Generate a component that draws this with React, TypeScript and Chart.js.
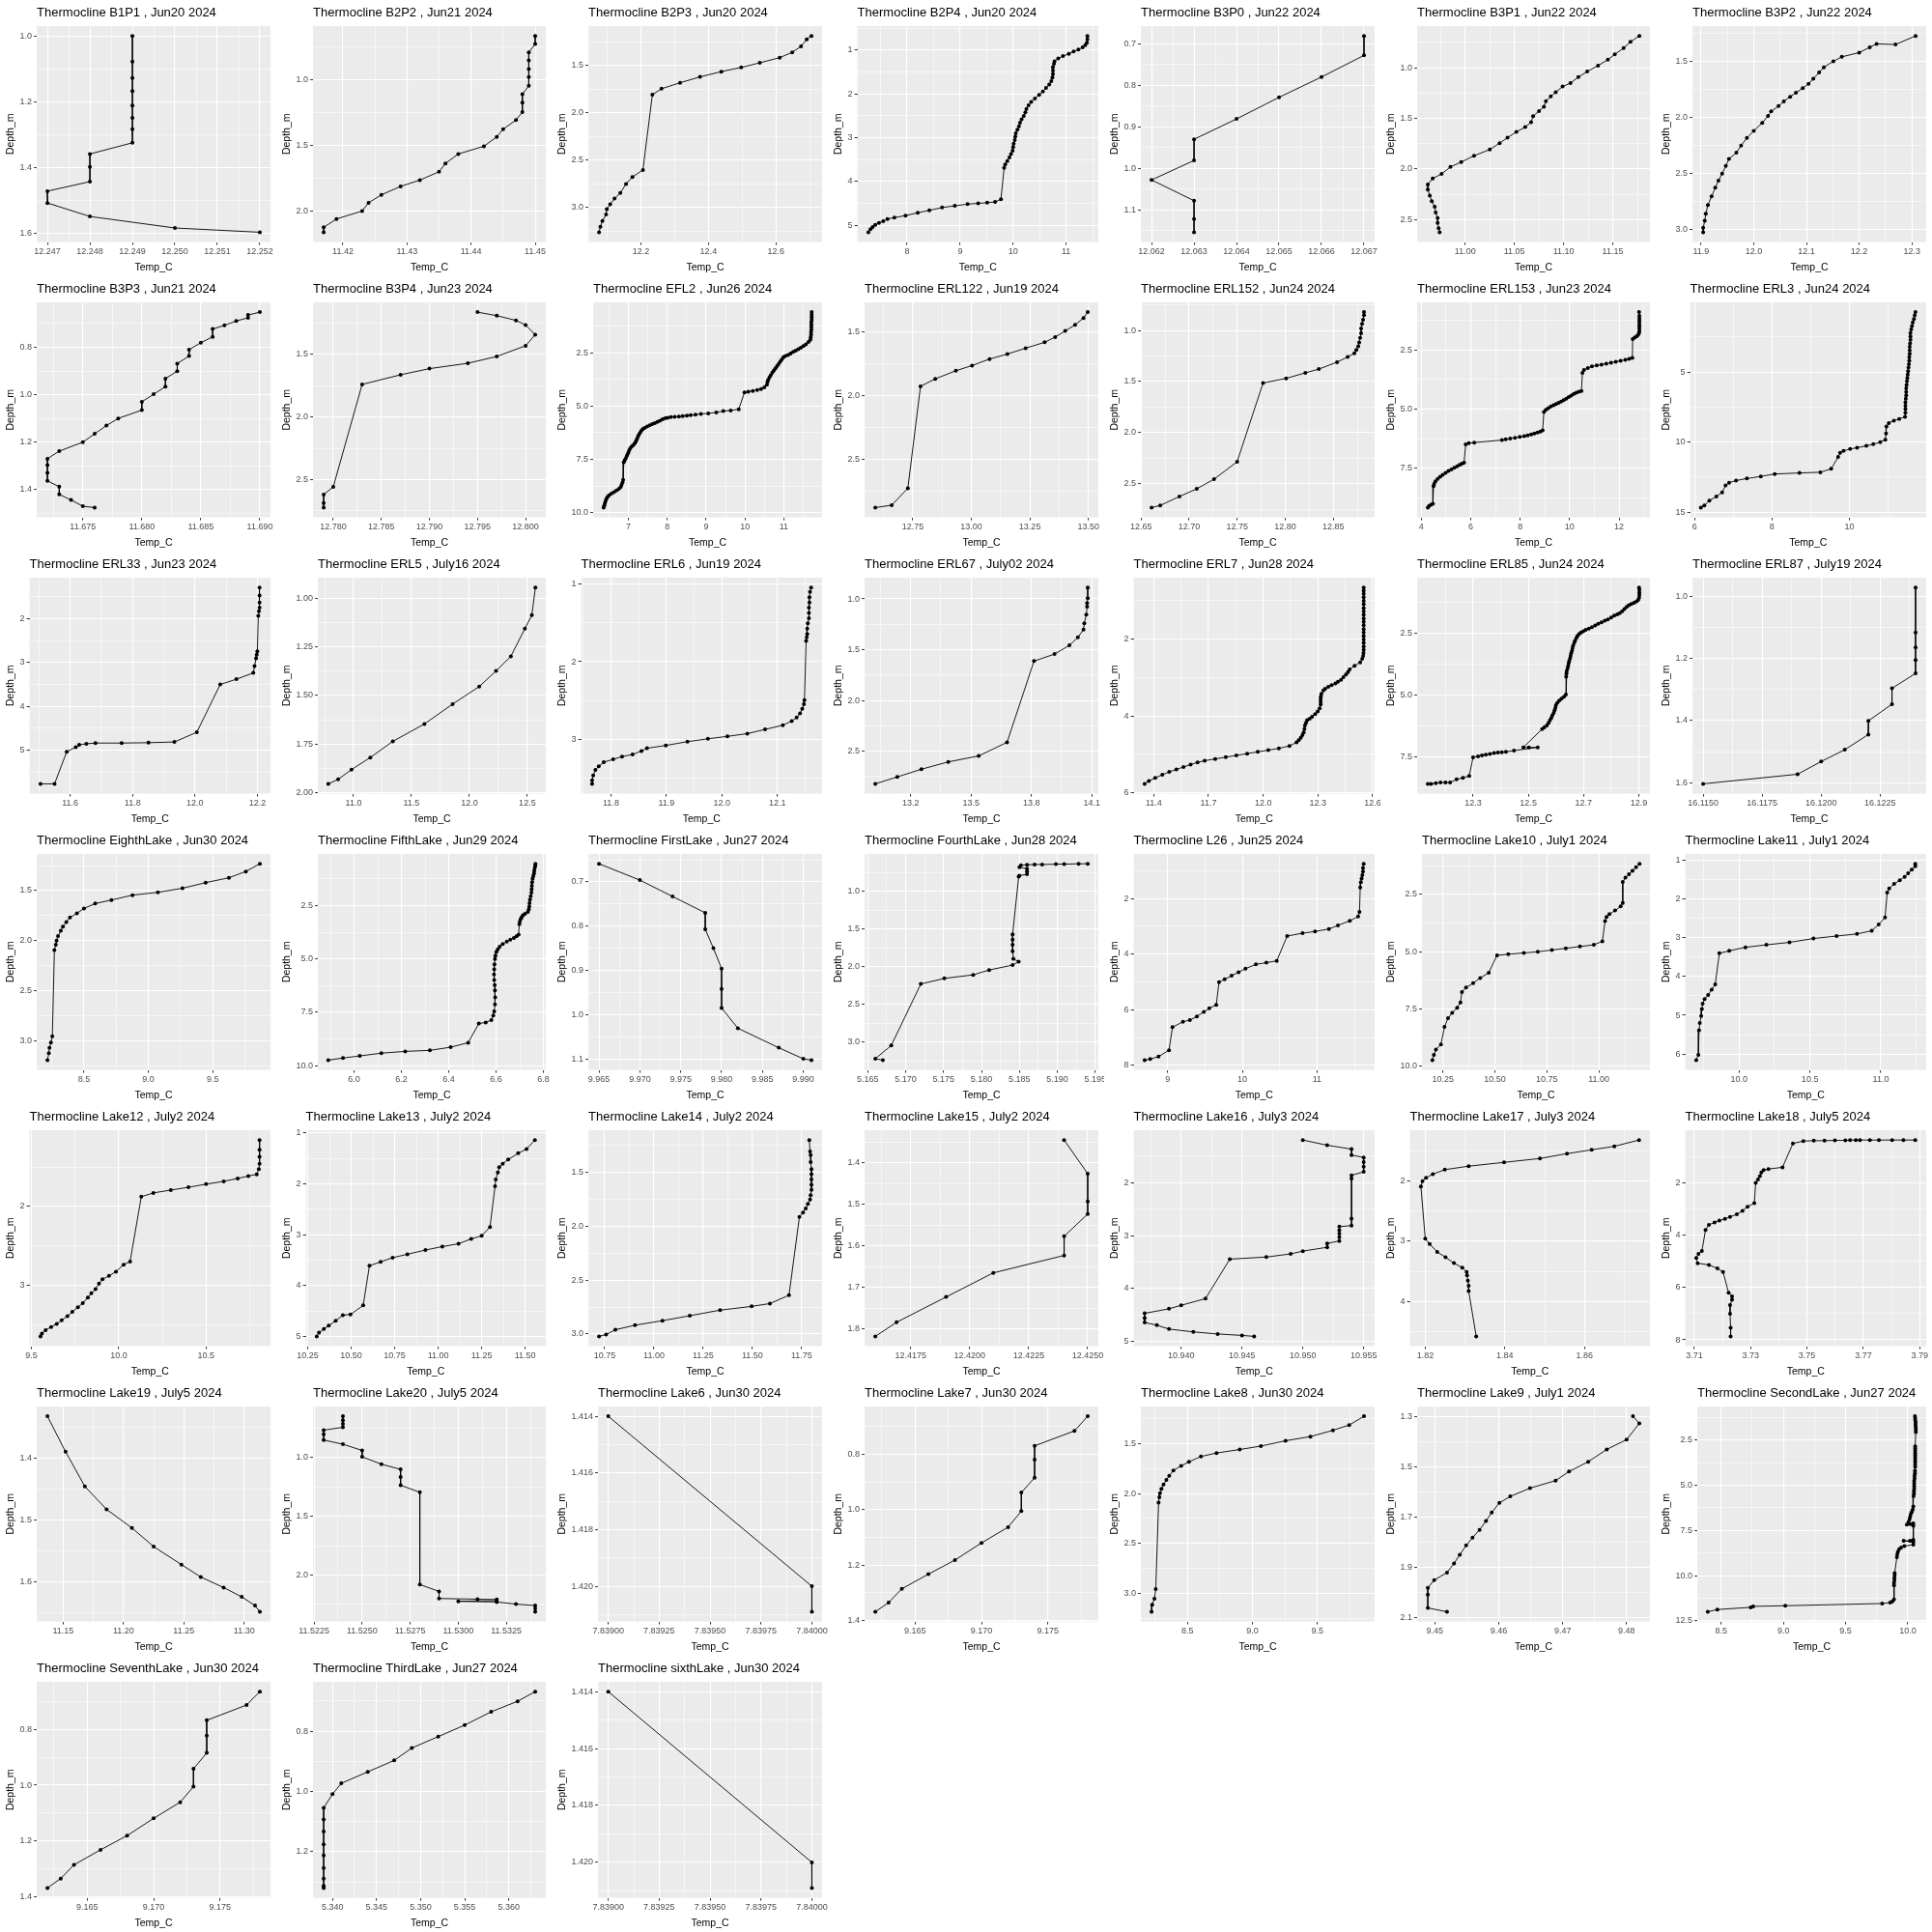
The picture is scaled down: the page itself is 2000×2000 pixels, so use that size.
import React, { useEffect, useRef } from "react";
import { Chart, registerables } from "chart.js";
Chart.register(...registerables);

const FONT = '"Liberation Sans", Arial, Helvetica, sans-serif';

// ---------------- data ----------------
const B1P1_TEMP = [12.249,12.249,12.249,12.249,12.249,12.249,12.249,12.249,12.248,12.248,12.248,12.247,12.247,12.248,12.250,12.252];
const B1P1_DEPTH = [1.000,1.078,1.128,1.168,1.212,1.249,1.284,1.325,1.359,1.398,1.443,1.472,1.508,1.549,1.584,1.597];
const B1P1_XT = ["12.247","12.248","12.249","12.250","12.251","12.252"];
const B1P1_YT = ["1.0","1.2","1.4","1.6"];

const B2P2_TEMP = [11.450,11.450,11.449,11.449,11.449,11.449,11.449,11.448,11.448,11.448,11.447,11.445,11.444,11.442,11.438,11.436,11.435,11.432,11.429,11.426,11.424,11.423,11.419,11.417,11.417];
const B2P2_DEPTH = [0.665,0.726,0.790,0.851,0.918,0.979,1.045,1.109,1.173,1.245,1.306,1.375,1.434,1.505,1.564,1.636,1.699,1.763,1.811,1.875,1.936,1.998,2.059,2.122,2.160];
const B2P2_XT = ["11.42","11.43","11.44","11.45"];
const B2P2_YT = ["1.0","1.5","2.0"];

const B2P3_TEMP = [12.705,12.691,12.674,12.648,12.611,12.552,12.497,12.438,12.375,12.316,12.261,12.234,12.206,12.175,12.156,12.139,12.122,12.109,12.099,12.097,12.086,12.080,12.076];
const B2P3_DEPTH = [1.185,1.222,1.296,1.359,1.415,1.470,1.519,1.563,1.619,1.681,1.744,1.807,2.604,2.678,2.752,2.848,2.907,2.967,3.019,3.074,3.144,3.204,3.263];
const B2P3_XT = ["12.2","12.4","12.6"];
const B2P3_YT = ["1.5","2.0","2.5","3.0"];

const B2P4_TEMP = [11.40,11.40,11.39,11.36,11.31,11.23,11.14,11.05,10.94,10.85,10.78,10.77,10.75,10.75,10.75,10.74,10.72,10.68,10.62,10.56,10.49,10.41,10.34,10.29,10.25,10.23,10.20,10.16,10.13,10.11,10.08,10.05,10.04,10.03,10.01,10.00,9.99,9.96,9.93,9.89,9.85,9.83,9.77,9.66,9.51,9.34,9.14,8.90,8.66,8.42,8.20,7.97,7.76,7.63,7.55,7.47,7.40,7.35,7.31,7.27];
const B2P4_DEPTH = [0.675,0.754,0.833,0.889,0.937,0.984,1.032,1.087,1.135,1.190,1.254,1.310,1.389,1.468,1.548,1.627,1.706,1.786,1.865,1.944,2.024,2.103,2.183,2.262,2.341,2.421,2.500,2.579,2.659,2.738,2.817,2.897,2.976,3.056,3.135,3.214,3.294,3.373,3.452,3.532,3.611,3.690,4.405,4.468,4.484,4.500,4.516,4.556,4.595,4.659,4.714,4.778,4.825,4.857,4.905,4.944,4.992,5.040,5.087,5.159];
const B2P4_XT = ["8","9","10","11"];
const B2P4_YT = ["1","2","3","4","5"];

const B3P0_TEMP = [12.067,12.067,12.066,12.065,12.064,12.063,12.063,12.062,12.063,12.063,12.063];
const B3P0_DEPTH = [0.681,0.728,0.780,0.829,0.881,0.930,0.981,1.028,1.078,1.122,1.154];
const B3P0_XT = ["12.062","12.063","12.064","12.065","12.066","12.067"];
const B3P0_YT = ["0.7","0.8","0.9","1.0","1.1"];

const B3P1_TEMP = [11.177,11.168,11.161,11.152,11.145,11.135,11.124,11.115,11.107,11.099,11.092,11.087,11.082,11.080,11.075,11.069,11.067,11.061,11.052,11.043,11.035,11.025,11.009,10.996,10.985,10.976,10.967,10.962,10.962,10.964,10.966,10.969,10.970,10.972,10.972,10.973,10.974];
const B3P1_DEPTH = [0.686,0.745,0.807,0.869,0.921,0.979,1.038,1.093,1.152,1.186,1.241,1.283,1.331,1.386,1.428,1.479,1.538,1.586,1.634,1.690,1.745,1.807,1.869,1.931,1.979,2.048,2.093,2.152,2.203,2.262,2.317,2.372,2.428,2.483,2.531,2.583,2.624];
const B3P1_XT = ["11.00","11.05","11.10","11.15"];
const B3P1_YT = ["1.0","1.5","2.0","2.5"];

const B3P2_TEMP = [12.307,12.269,12.233,12.220,12.200,12.167,12.151,12.133,12.124,12.113,12.104,12.093,12.080,12.069,12.057,12.047,12.033,12.027,12.016,12.000,11.987,11.976,11.967,11.953,11.947,11.940,11.933,11.927,11.920,11.913,11.909,11.907,11.904,11.904];
const B3P2_DEPTH = [1.273,1.350,1.344,1.375,1.422,1.460,1.500,1.553,1.600,1.656,1.700,1.740,1.781,1.816,1.857,1.900,1.947,1.988,2.050,2.121,2.184,2.252,2.316,2.372,2.434,2.503,2.565,2.628,2.706,2.783,2.861,2.924,2.986,3.026];
const B3P2_XT = ["11.9","12.0","12.1","12.2","12.3"];
const B3P2_YT = ["1.5","2.0","2.5","3.0"];

const B3P3_TEMP = [11.690,11.689,11.689,11.688,11.687,11.686,11.686,11.685,11.684,11.684,11.683,11.683,11.682,11.682,11.681,11.680,11.680,11.678,11.677,11.676,11.675,11.673,11.672,11.672,11.672,11.672,11.673,11.673,11.674,11.675,11.676];
const B3P3_DEPTH = [0.652,0.664,0.676,0.689,0.708,0.723,0.756,0.781,0.810,0.837,0.869,0.901,0.932,0.966,0.998,1.030,1.065,1.100,1.130,1.165,1.200,1.238,1.270,1.297,1.329,1.363,1.388,1.420,1.444,1.470,1.476];
const B3P3_XT = ["11.675","11.680","11.685","11.690"];
const B3P3_YT = ["0.8","1.0","1.2","1.4"];

const B3P4_TEMP = [12.795,12.797,12.799,12.800,12.801,12.800,12.797,12.794,12.790,12.787,12.783,12.780,12.779,12.779,12.779];
const B3P4_DEPTH = [1.163,1.191,1.229,1.266,1.343,1.431,1.517,1.571,1.614,1.663,1.740,2.557,2.620,2.686,2.723];
const B3P4_XT = ["12.780","12.785","12.790","12.795","12.800"];
const B3P4_YT = ["1.5","2.0","2.5"];

const EFL2_TEMP = [
  11.716,11.716,11.716,11.716,11.708,11.708,11.708,11.708,11.700,11.700,
  11.691,11.683,11.634,11.568,11.502,11.436,11.370,11.305,11.239,11.173,
  11.107,11.041,10.992,10.951,10.909,10.868,10.827,10.786,10.745,10.704,
  10.663,10.630,10.597,10.580,10.564,10.498,10.416,10.317,10.202,10.086,
  9.988,9.840,9.634,9.444,9.263,9.058,8.868,8.728,8.605,8.506,
  8.399,8.300,8.193,8.095,8.012,7.947,7.881,7.815,7.749,7.683,
  7.617,7.551,7.486,7.420,7.370,7.329,7.296,7.263,7.239,7.214,
  7.189,7.156,7.115,7.074,7.041,7.016,6.992,6.967,6.942,6.909,
  6.885,6.868,6.852,6.827,6.802,6.753,6.695,6.630,6.564,6.506,
  6.465,6.440,6.416,6.399,6.383,6.366];
const EFL2_DEPTH = [
  0.592,0.710,0.828,0.947,1.065,1.183,1.302,1.420,1.538,1.657,
  1.775,1.893,1.997,2.101,2.189,2.263,2.337,2.396,2.456,2.530,
  2.604,2.648,2.707,2.811,2.914,3.018,3.121,3.225,3.328,3.432,
  3.550,3.654,3.772,3.876,3.994,4.127,4.201,4.246,4.290,4.320,
  4.364,5.148,5.207,5.237,5.296,5.340,5.370,5.399,5.429,5.444,
  5.473,5.488,5.503,5.518,5.547,5.577,5.621,5.680,5.740,5.799,
  5.843,5.902,5.962,6.021,6.080,6.169,6.272,6.376,6.479,6.583,
  6.686,6.775,6.849,6.923,7.012,7.115,7.219,7.322,7.426,7.530,
  7.633,8.462,8.580,8.698,8.802,8.891,8.964,9.038,9.112,9.186,
  9.260,9.349,9.453,9.556,9.660,9.763];
const EFL2_XT = ["7","8","9","10","11"];
const EFL2_YT = ["2.5","5.0","7.5","10.0"];

const ERL122_TEMP = [13.497,13.479,13.443,13.401,13.358,13.313,13.232,13.154,13.078,13.003,12.934,12.846,12.783,12.729,12.660,12.590];
const ERL122_DEPTH = [1.348,1.394,1.448,1.495,1.543,1.584,1.630,1.676,1.715,1.766,1.807,1.870,1.929,2.726,2.859,2.878];
const ERL122_XT = ["12.75","13.00","13.25","13.50"];
const ERL122_YT = ["1.5","2.0","2.5"];

const ERL152_TEMP = [12.882,12.882,12.881,12.880,12.879,12.879,12.878,12.877,12.876,12.874,12.872,12.865,12.854,12.835,12.821,12.801,12.777,12.750,12.726,12.708,12.690,12.670,12.661];
const ERL152_DEPTH = [0.820,0.850,0.895,0.935,0.980,1.027,1.071,1.116,1.156,1.190,1.224,1.259,1.310,1.378,1.415,1.469,1.514,2.286,2.456,2.551,2.626,2.714,2.735];
const ERL152_XT = ["12.65","12.70","12.75","12.80","12.85"];
const ERL152_YT = ["1.0","1.5","2.0","2.5"];

const ERL153_TEMP = [
  12.805,12.817,12.817,12.817,12.817,12.817,12.817,12.817,12.805,12.766,
  12.702,12.625,12.548,12.535,12.406,12.252,12.059,11.866,11.674,11.481,
  11.288,11.095,10.902,10.735,10.581,10.517,10.478,10.375,10.272,10.170,
  10.067,9.964,9.861,9.758,9.656,9.553,9.450,9.347,9.244,9.141,
  9.039,8.961,8.910,8.820,8.704,8.576,8.447,8.306,8.165,7.985,
  7.792,7.599,7.419,7.265,6.147,5.928,5.800,5.735,5.645,5.555,
  5.452,5.337,5.221,5.105,4.990,4.874,4.771,4.668,4.578,4.527,
  4.501,4.476,4.398,4.321,4.270];
const ERL153_DEPTH = [
  0.896,1.056,1.163,1.270,1.377,1.484,1.591,1.698,1.778,1.858,
  1.925,1.979,2.032,2.834,2.874,2.914,2.955,2.995,3.035,3.075,
  3.115,3.155,3.195,3.262,3.342,3.463,4.238,4.265,4.305,4.358,
  4.425,4.492,4.559,4.626,4.679,4.733,4.786,4.840,4.893,4.960,
  5.027,5.120,5.896,5.949,5.989,6.029,6.070,6.110,6.150,6.176,
  6.216,6.243,6.283,6.310,6.417,6.444,6.497,7.273,7.313,7.366,
  7.420,7.487,7.553,7.620,7.701,7.781,7.861,7.955,8.061,8.168,
  8.262,9.011,9.051,9.104,9.171];
const ERL153_XT = ["4","6","8","10","12"];
const ERL153_YT = ["2.5","5.0","7.5"];

const ERL3_TEMP = [11.71,11.69,11.67,11.64,11.62,11.60,11.58,11.58,11.58,11.57,11.56,11.56,11.56,11.55,11.55,11.54,11.53,11.52,11.51,11.50,11.49,11.48,11.47,11.47,11.47,11.46,11.45,11.45,11.45,11.45,11.44,11.29,11.15,11.02,10.96,10.95,10.93,10.80,10.62,10.44,10.20,10.02,9.85,9.76,9.71,9.53,9.25,8.71,8.07,7.71,7.35,7.07,6.89,6.80,6.71,6.56,6.38,6.25,6.16];
const ERL3_DEPTH = [0.718,0.95,1.213,1.45,1.708,1.95,2.203,2.45,2.698,2.95,3.193,3.45,3.688,3.93,4.183,4.43,4.678,4.93,5.173,5.42,5.668,5.92,6.163,6.41,6.658,6.90,7.153,7.40,7.649,7.90,8.193,8.342,8.465,8.639,8.886,9.381,9.827,10.00,10.15,10.27,10.396,10.495,10.62,10.77,11.064,11.906,12.153,12.203,12.277,12.450,12.599,12.748,12.896,13.094,13.589,13.886,14.183,14.530,14.678];
const ERL3_XT = ["6","8","10"];
const ERL3_YT = ["5","10","15"];

const ERL33_TEMP = [12.207,12.207,12.207,12.207,12.205,12.203,12.200,12.198,12.196,12.191,12.187,12.133,12.081,12.006,11.934,11.851,11.765,11.681,11.652,11.629,11.618,11.589,11.550,11.505];
const ERL33_DEPTH = [1.283,1.466,1.625,1.745,1.825,1.928,2.741,2.821,2.900,3.076,3.235,3.378,3.498,4.590,4.813,4.829,4.837,4.837,4.853,4.877,4.932,5.036,5.769,5.769];
const ERL33_XT = ["11.6","11.8","12.0","12.2"];
const ERL33_YT = ["2","3","4","5","6"];

const ERL5_TEMP = [12.570,12.539,12.479,12.358,12.230,12.085,11.855,11.612,11.339,11.145,10.982,10.867,10.782];
const ERL5_DEPTH = [0.946,1.088,1.157,1.299,1.374,1.454,1.544,1.646,1.735,1.818,1.880,1.930,1.953];
const ERL5_XT = ["11.0","11.5","12.0","12.5"];
const ERL5_YT = ["1.00","1.25","1.50","1.75","2.00"];

const ERL6_TEMP = [12.161,12.159,12.158,12.158,12.157,12.157,12.157,12.155,12.154,12.154,12.153,12.152,12.149,12.148,12.145,12.141,12.135,12.126,12.110,12.078,12.046,12.010,11.975,11.938,11.899,11.865,11.855,11.839,11.820,11.804,11.787,11.778,11.772,11.768,11.766,11.766];
const ERL6_DEPTH = [1.041,1.099,1.167,1.234,1.302,1.369,1.437,1.505,1.572,1.640,1.685,1.730,2.495,2.550,2.608,2.667,2.721,2.766,2.820,2.874,2.928,2.964,2.995,3.032,3.081,3.117,3.153,3.198,3.225,3.261,3.297,3.351,3.396,3.468,3.532,3.577];
const ERL6_XT = ["11.8","11.9","12.0","12.1"];
const ERL6_YT = ["1","2","3"];

const ERL67_TEMP = [14.080,14.080,14.077,14.077,14.073,14.063,14.059,14.031,13.989,13.915,13.813,13.679,13.538,13.387,13.253,13.133,13.024];
const ERL67_DEPTH = [0.887,0.993,1.041,1.076,1.155,1.241,1.302,1.378,1.457,1.543,1.612,2.412,2.546,2.605,2.677,2.753,2.821];
const ERL67_XT = ["13.2","13.5","13.8","14.1"];
const ERL67_YT = ["1.0","1.5","2.0","2.5"];

const ERL7_TEMP = [12.551,12.551,12.551,12.551,12.551,12.551,12.551,12.551,12.551,12.551,12.551,12.551,12.551,12.551,12.551,12.551,12.551,12.551,12.551,12.550,12.548,12.543,12.532,12.501,12.474,12.465,12.454,12.440,12.427,12.410,12.396,12.375,12.357,12.340,12.330,12.319,12.316,12.315,12.315,12.315,12.310,12.299,12.285,12.268,12.255,12.241,12.235,12.229,12.226,12.222,12.215,12.206,12.195,12.183,12.144,12.086,12.028,11.970,11.912,11.853,11.795,11.737,11.679,11.640,11.602,11.563,11.524,11.485,11.447,11.408,11.373,11.350];
const ERL7_DEPTH = [0.655,0.74,0.82,0.91,1.00,1.09,1.19,1.28,1.37,1.46,1.55,1.64,1.74,1.83,1.92,2.01,2.10,2.19,2.28,2.36,2.44,2.512,2.604,2.695,2.787,2.86,2.924,2.99,3.061,3.11,3.153,3.20,3.244,3.29,3.336,3.427,3.50,3.564,3.63,3.702,3.80,3.885,3.95,4.022,4.07,4.113,4.18,4.251,4.34,4.434,4.50,4.571,4.63,4.690,4.781,4.845,4.891,4.937,4.982,5.028,5.074,5.120,5.166,5.211,5.266,5.330,5.394,5.458,5.532,5.614,5.696,5.769];
const ERL7_XT = ["11.4","11.7","12.0","12.3","12.6"];
const ERL7_YT = ["2","4","6"];

const ERL85_TEMP = [
  12.901,12.902,12.902,12.902,12.901,12.898,12.892,12.883,12.873,12.864,
  12.856,12.848,12.840,12.831,12.822,12.811,12.800,12.788,12.777,12.765,
  12.753,12.742,12.730,12.719,12.708,12.699,12.691,12.684,12.678,12.674,
  12.669,12.666,12.662,12.660,12.658,12.655,12.653,12.651,12.648,12.646,
  12.644,12.642,12.639,12.638,12.637,12.636,12.629,12.620,12.612,12.605,
  12.600,12.598,12.595,12.592,12.587,12.583,12.578,12.573,12.567,12.558,
  12.550,12.482,12.502,12.534,12.448,12.419,12.404,12.390,12.376,12.361,
  12.346,12.332,12.318,12.300,12.286,12.263,12.240,12.217,12.200,12.182,
  12.165,12.148,12.136];
const ERL85_DEPTH = [
  0.654,0.756,0.859,0.962,1.064,1.154,1.218,1.269,1.321,1.372,
  1.436,1.526,1.615,1.692,1.744,1.795,1.872,1.949,2.000,2.064,
  2.128,2.192,2.256,2.321,2.372,2.423,2.474,2.538,2.615,2.705,
  2.808,2.910,3.013,3.115,3.218,3.321,3.423,3.526,3.628,3.731,
  3.833,3.936,4.038,4.141,4.269,4.987,5.077,5.154,5.231,5.321,
  5.423,5.526,5.628,5.731,5.833,5.936,6.038,6.141,6.244,6.321,
  6.385,7.128,7.128,7.128,7.256,7.308,7.321,7.333,7.359,7.397,
  7.423,7.449,7.487,7.526,8.282,8.359,8.423,8.551,8.551,8.551,
  8.577,8.603,8.603];
const ERL85_XT = ["12.3","12.5","12.7","12.9"];
const ERL85_YT = ["2.5","5.0","7.5"];

const ERL87_TEMP = [16.124,16.124,16.124,16.124,16.124,16.123,16.123,16.122,16.122,16.121,16.120,16.119,16.115];
const ERL87_DEPTH = [0.971,1.116,1.164,1.205,1.248,1.296,1.347,1.401,1.445,1.494,1.532,1.573,1.604];
const ERL87_XT = ["16.1150","16.1175","16.1200","16.1225"];
const ERL87_YT = ["1.0","1.2","1.4","1.6"];

const EIGHTH_TEMP = [9.866,9.757,9.626,9.445,9.265,9.074,8.877,8.713,8.587,8.500,8.445,8.391,8.363,8.336,8.320,8.298,8.287,8.281,8.270,8.254,8.243,8.232,8.227,8.216];
const EIGHTH_DEPTH = [1.231,1.308,1.371,1.420,1.476,1.517,1.545,1.594,1.629,1.678,1.727,1.769,1.815,1.860,1.902,1.955,2.000,2.042,2.094,2.958,3.021,3.073,3.126,3.196];
const EIGHTH_XT = ["8.5","9.0","9.5"];
const EIGHTH_YT = ["1.5","2.0","2.5","3.0"];

const FIFTH_TEMP = [6.766,6.765,6.763,6.761,6.760,6.757,6.754,6.752,6.751,6.750,6.749,6.746,6.743,6.741,6.740,6.738,6.734,6.722,6.713,6.708,6.704,6.700,6.698,6.695,6.686,6.675,6.660,6.645,6.628,6.615,6.607,6.601,6.597,6.595,6.593,6.592,6.591,6.592,6.594,6.595,6.596,6.595,6.592,6.588,6.580,6.556,6.527,6.482,6.408,6.320,6.216,6.115,6.024,5.953,5.891];
const FIFTH_DEPTH = [0.539,0.65,0.752,0.87,0.997,1.12,1.242,1.40,1.569,1.73,1.895,2.06,2.222,2.39,2.549,2.68,2.794,2.88,2.958,3.04,3.121,3.25,3.366,3.856,3.94,4.020,4.10,4.183,4.30,4.428,4.55,4.673,4.84,5.000,5.25,5.490,5.73,5.980,6.22,6.471,6.80,7.124,7.451,7.65,7.859,7.974,8.023,8.922,9.134,9.281,9.330,9.412,9.542,9.641,9.739];
const FIFTH_XT = ["6.0","6.2","6.4","6.6","6.8"];
const FIFTH_YT = ["2.5","5.0","7.5","10.0"];

const FIRST_TEMP = [9.965,9.970,9.974,9.978,9.978,9.979,9.980,9.980,9.980,9.982,9.987,9.990,9.991];
const FIRST_DEPTH = [0.659,0.696,0.733,0.770,0.807,0.850,0.896,0.942,0.985,1.031,1.075,1.100,1.103];
const FIRST_XT = ["9.965","9.970","9.975","9.980","9.985","9.990"];
const FIRST_YT = ["0.7","0.8","0.9","1.0","1.1"];

const FOURTH_TEMP = [5.1940,5.1928,5.1909,5.1898,5.1880,5.1870,5.1860,5.1852,5.1850,5.1860,5.1860,5.1860,5.1850,5.1849,5.1841,5.1841,5.1841,5.1841,5.1842,5.1849,5.1841,5.1810,5.1789,5.1751,5.1720,5.1681,5.1660,5.1670];
const FOURTH_DEPTH = [0.634,0.634,0.639,0.639,0.644,0.644,0.648,0.653,0.681,0.699,0.736,0.773,0.792,0.806,1.569,1.639,1.708,1.792,1.894,1.931,1.977,2.042,2.106,2.153,2.227,3.042,3.218,3.236];
const FOURTH_XT = ["5.165","5.170","5.175","5.180","5.185","5.190","5.195"];
const FOURTH_YT = ["1.0","1.5","2.0","2.5","3.0"];

const L26_TEMP = [11.623,11.614,11.614,11.605,11.595,11.586,11.577,11.567,11.549,11.437,11.279,11.158,10.972,10.805,10.600,10.460,10.321,10.181,10.042,9.949,9.856,9.763,9.688,9.651,9.558,9.484,9.391,9.298,9.205,9.065,9.019,8.879,8.767,8.693];
const L26_DEPTH = [0.752,0.904,1.032,1.159,1.287,1.414,1.605,2.484,2.650,2.803,2.968,3.096,3.185,3.248,3.350,4.242,4.306,4.369,4.522,4.650,4.777,4.904,5.006,5.822,5.949,6.076,6.242,6.369,6.433,6.624,7.452,7.682,7.771,7.809];
const L26_XT = ["9","10","11"];
const L26_YT = ["2","4","6","8"];

const LAKE10_TEMP = [11.196,11.179,11.162,11.145,11.128,11.115,11.115,11.105,11.078,11.051,11.037,11.030,11.017,10.976,10.909,10.841,10.774,10.706,10.639,10.564,10.510,10.470,10.429,10.395,10.361,10.341,10.334,10.318,10.294,10.274,10.257,10.240,10.216,10.206,10.199];
const LAKE10_DEPTH = [1.159,1.311,1.463,1.616,1.768,1.951,2.866,3.018,3.201,3.354,3.476,3.659,4.543,4.695,4.771,4.848,4.924,5.000,5.046,5.107,5.152,5.915,6.143,6.372,6.555,6.753,7.210,7.439,7.668,7.896,8.277,9.040,9.268,9.497,9.726];
const LAKE10_XT = ["10.25","10.50","10.75","11.00"];
const LAKE10_YT = ["2.5","5.0","7.5","10.0"];

const LAKE11_TEMP = [11.243,11.243,11.218,11.193,11.168,11.134,11.094,11.059,11.045,11.030,10.985,10.936,10.832,10.688,10.525,10.356,10.193,10.045,9.931,9.861,9.832,9.807,9.782,9.757,9.743,9.738,9.733,9.723,9.718,9.713,9.698];
const LAKE11_DEPTH = [1.100,1.163,1.254,1.345,1.436,1.526,1.617,1.735,1.844,2.479,2.661,2.824,2.906,2.961,3.024,3.123,3.187,3.250,3.341,3.405,4.203,4.339,4.475,4.584,4.702,4.838,5.020,5.201,5.383,6.018,6.154];
const LAKE11_XT = ["10.0","10.5","11.0"];
const LAKE11_YT = ["1","2","3","4","5","6"];

const LAKE12_TEMP = [10.806,10.806,10.806,10.806,10.802,10.790,10.742,10.681,10.601,10.500,10.399,10.298,10.198,10.129,10.065,10.028,9.984,9.944,9.907,9.887,9.867,9.843,9.823,9.794,9.766,9.734,9.706,9.673,9.645,9.613,9.581,9.560,9.552];
const LAKE12_DEPTH = [1.156,1.280,1.369,1.458,1.524,1.591,1.613,1.644,1.680,1.716,1.756,1.791,1.827,1.876,2.698,2.738,2.827,2.880,2.924,2.978,3.049,3.102,3.156,3.227,3.280,3.338,3.391,3.444,3.489,3.529,3.569,3.613,3.649];
const LAKE12_XT = ["9.5","10.0","10.5"];
const LAKE12_YT = ["2","3"];

const LAKE13_TEMP = [11.556,11.508,11.460,11.403,11.371,11.351,11.343,11.331,11.327,11.298,11.250,11.190,11.117,11.024,10.927,10.823,10.738,10.669,10.605,10.569,10.496,10.452,10.411,10.371,10.343,10.315,10.302];
const LAKE13_DEPTH = [1.137,1.315,1.397,1.521,1.603,1.671,1.774,1.911,2.048,2.849,3.021,3.082,3.178,3.233,3.301,3.384,3.452,3.534,3.610,4.390,4.568,4.582,4.692,4.788,4.856,4.925,5.000];
const LAKE13_XT = ["10.25","10.50","10.75","11.00","11.25","11.50"];
const LAKE13_YT = ["1","2","3","4","5"];

const LAKE14_TEMP = [11.789,11.793,11.796,11.796,11.800,11.800,11.800,11.800,11.800,11.796,11.793,11.782,11.771,11.757,11.739,11.686,11.589,11.496,11.336,11.182,11.043,10.904,10.804,10.757,10.721];
const LAKE14_DEPTH = [1.198,1.305,1.338,1.403,1.468,1.516,1.565,1.614,1.662,1.711,1.750,1.792,1.834,1.873,1.912,2.640,2.718,2.744,2.779,2.831,2.877,2.919,2.961,3.006,3.023];
const LAKE14_XT = ["10.75","11.00","11.25","11.50","11.75"];
const LAKE14_YT = ["1.5","2.0","2.5","3.0"];

const LAKE15_TEMP = [12.4240,12.4250,12.4250,12.4250,12.4240,12.4240,12.4210,12.4190,12.4169,12.4160];
const LAKE15_DEPTH = [1.345,1.426,1.493,1.523,1.577,1.623,1.665,1.723,1.784,1.818];
const LAKE15_XT = ["12.4175","12.4200","12.4225","12.4250"];
const LAKE15_YT = ["1.4","1.5","1.6","1.7","1.8"];

const LAKE16_TEMP = [10.950,10.952,10.954,10.954,10.955,10.955,10.955,10.955,10.954,10.954,10.954,10.954,10.953,10.953,10.953,10.953,10.953,10.952,10.952,10.950,10.949,10.947,10.944,10.942,10.940,10.939,10.937,10.937,10.937,10.938,10.939,10.941,10.943,10.945,10.946];
const LAKE16_DEPTH = [1.196,1.294,1.367,1.479,1.525,1.611,1.697,1.796,1.862,1.921,2.679,2.811,2.831,2.897,2.963,3.029,3.101,3.147,3.220,3.292,3.345,3.404,3.444,4.189,4.315,4.381,4.467,4.559,4.639,4.691,4.764,4.817,4.856,4.883,4.902];
const LAKE16_XT = ["10.940","10.945","10.950","10.955"];
const LAKE16_YT = ["2","3","4","5"];

const LAKE17_TEMP = [1.8737,1.8675,1.8618,1.8556,1.8488,1.8398,1.8309,1.8249,1.8219,1.8202,1.8193,1.8189,1.8200,1.8211,1.8230,1.8251,1.8272,1.8293,1.8304,1.8305,1.8307,1.8309,1.8309,1.8328];
const LAKE17_DEPTH = [1.324,1.428,1.486,1.549,1.630,1.694,1.757,1.815,1.890,1.948,2.006,2.092,2.960,3.046,3.179,3.266,3.364,3.439,3.509,3.566,3.653,3.740,3.827,4.578];
const LAKE17_XT = ["1.82","1.84","1.86"];
const LAKE17_YT = ["2","3","4"];

const LAKE18_TEMP = [3.7884,3.7842,3.7802,3.7755,3.7723,3.7688,3.7673,3.7653,3.7636,3.7599,3.7562,3.7524,3.7487,3.7450,3.7413,3.7363,3.7346,3.7338,3.7333,3.7326,3.7318,3.7313,3.7289,3.7271,3.7251,3.7227,3.7209,3.7189,3.7172,3.7152,3.7140,3.7127,3.7115,3.7107,3.7112,3.7152,3.7182,3.7202,3.7222,3.7234,3.7234,3.7227,3.7227,3.7229,3.7229];
const LAKE18_DEPTH = [0.378,0.378,0.378,0.378,0.378,0.378,0.378,0.378,0.391,0.391,0.404,0.404,0.418,0.511,1.418,1.484,1.524,1.617,1.750,1.883,2.016,2.787,2.920,3.080,3.213,3.306,3.386,3.452,3.519,3.612,3.811,4.610,4.716,4.876,5.075,5.142,5.274,5.407,6.205,6.338,6.471,6.670,7.002,7.535,7.867];
const LAKE18_XT = ["3.71","3.73","3.75","3.77","3.79"];
const LAKE18_YT = ["2","4","6","8"];

const LAKE19_TEMP = [11.137,11.152,11.168,11.186,11.207,11.225,11.248,11.264,11.283,11.298,11.309,11.313];
const LAKE19_DEPTH = [1.333,1.390,1.446,1.483,1.513,1.543,1.572,1.592,1.609,1.624,1.638,1.648];
const LAKE19_XT = ["11.15","11.20","11.25","11.30"];
const LAKE19_YT = ["1.4","1.5","1.6"];

const LAKE20_TEMP = [11.5240,11.5240,11.5240,11.5240,11.5230,11.5230,11.5230,11.5240,11.5250,11.5250,11.5260,11.5270,11.5270,11.5270,11.5280,11.5280,11.5290,11.5290,11.5310,11.5320,11.5320,11.5300,11.5320,11.5330,11.5340,11.5340,11.5340];
const LAKE20_DEPTH = [0.649,0.684,0.713,0.743,0.767,0.803,0.851,0.887,0.940,0.994,1.057,1.101,1.167,1.236,1.296,2.081,2.140,2.200,2.206,2.209,2.218,2.224,2.230,2.248,2.260,2.284,2.313];
const LAKE20_XT = ["11.5225","11.5250","11.5275","11.5300","11.5325"];
const LAKE20_YT = ["1.0","1.5","2.0"];

const LAKE6_TEMP = [7.8390,7.8400,7.8400];
const LAKE6_DEPTH = [1.4140,1.4200,1.4209];
const LAKE6_XT = ["7.83900","7.83925","7.83950","7.83975","7.84000"];
const LAKE6_YT = ["1.414","1.416","1.418","1.420"];

const LAKE7_TEMP = [9.178,9.177,9.174,9.174,9.174,9.173,9.173,9.172,9.170,9.168,9.166,9.164,9.163,9.162];
const LAKE7_DEPTH = [0.662,0.715,0.769,0.819,0.884,0.938,1.005,1.063,1.120,1.182,1.233,1.286,1.336,1.369];
const LAKE7_XT = ["9.165","9.170","9.175"];
const LAKE7_YT = ["0.8","1.0","1.2","1.4"];

const LAKE8_TEMP = [9.859,9.745,9.620,9.446,9.255,9.065,8.902,8.723,8.603,8.511,8.451,8.391,8.359,8.337,8.315,8.299,8.288,8.283,8.277,8.255,8.245,8.228,8.223];
const LAKE8_DEPTH = [1.223,1.311,1.364,1.427,1.469,1.522,1.557,1.592,1.627,1.680,1.722,1.767,1.820,1.862,1.907,1.953,1.995,2.037,2.090,2.958,3.056,3.116,3.186];
const LAKE8_XT = ["8.5","9.0","9.5"];
const LAKE8_YT = ["1.5","2.0","2.5","3.0"];

const LAKE9_TEMP = [9.4810,9.4820,9.4800,9.4769,9.4740,9.4710,9.4689,9.4649,9.4618,9.4601,9.4589,9.4580,9.4570,9.4559,9.4549,9.4539,9.4530,9.4519,9.4499,9.4489,9.4489,9.4489,9.4519];
const LAKE9_DEPTH = [1.300,1.328,1.393,1.432,1.481,1.520,1.556,1.586,1.619,1.645,1.683,1.717,1.752,1.783,1.814,1.851,1.886,1.922,1.952,1.983,2.010,2.063,2.078];
const LAKE9_XT = ["9.45","9.46","9.47","9.48"];
const LAKE9_YT = ["1.3","1.5","1.7","1.9","2.1"];

const SECOND_TEMP = [
  10.057,10.059,10.059,10.062,10.062,10.062,10.064,10.064,10.064,
  10.059,10.059,10.059,10.059,10.059,10.059,10.059,10.059,10.059,10.059,
  10.057,10.057,10.054,10.054,10.051,10.051,10.051,10.051,10.049,10.049,10.046,
  10.044,10.039,10.031,10.023,10.018,10.013,10.005,9.992,10.018,10.044,10.044,
  10.044,10.018,9.966,10.044,10.044,9.972,9.946,9.930,9.920,9.915,9.912,
  9.894,9.894,9.892,9.892,9.889,9.889,
  9.889,9.876,9.858,9.794,9.015,8.757,8.737,8.469,8.392];
const SECOND_DEPTH = [
  1.187,1.292,1.397,1.502,1.607,1.712,1.817,1.922,2.062,
  2.850,2.973,3.095,3.218,3.341,3.463,3.586,3.708,3.849,3.989,
  4.199,4.339,4.479,4.619,4.759,4.899,5.039,5.180,5.320,5.460,5.600,
  6.178,6.353,6.476,6.616,6.756,6.896,7.036,7.176,7.141,7.106,7.246,
  8.017,8.069,8.069,8.139,8.279,8.367,8.437,8.542,8.682,8.822,8.980,
  9.855,9.978,10.118,10.258,10.398,10.538,
  11.309,11.414,11.484,11.537,11.660,11.695,11.747,11.870,11.992];
const SECOND_XT = ["8.5","9.0","9.5","10.0"];
const SECOND_YT = ["2.5","5.0","7.5","10.0","12.5"];

const SEVENTH_TEMP = [9.178,9.177,9.174,9.174,9.174,9.173,9.173,9.172,9.170,9.168,9.166,9.164,9.163,9.162];
const SEVENTH_DEPTH = [0.664,0.712,0.767,0.822,0.884,0.941,1.005,1.061,1.119,1.181,1.232,1.286,1.335,1.369];
const SEVENTH_XT = ["9.165","9.170","9.175"];
const SEVENTH_YT = ["0.8","1.0","1.2","1.4"];

const THIRD_TEMP = [5.363,5.361,5.358,5.355,5.352,5.349,5.347,5.344,5.341,5.340,5.339,5.339,5.339,5.339,5.339,5.339,5.339,5.339,5.339];
const THIRD_DEPTH = [0.669,0.701,0.736,0.780,0.818,0.856,0.897,0.935,0.973,1.009,1.054,1.093,1.133,1.175,1.212,1.254,1.289,1.313,1.320];
const THIRD_XT = ["5.340","5.345","5.350","5.355","5.360"];
const THIRD_YT = ["0.8","1.0","1.2"];

const SIXTH_TEMP = [7.8390,7.8400,7.8400];
const SIXTH_DEPTH = [1.4140,1.4200,1.4209];
const SIXTH_XT = ["7.83900","7.83925","7.83950","7.83975","7.84000"];
const SIXTH_YT = ["1.414","1.416","1.418","1.420"];

const PANELS = [
  { name: "B1P1", date: "Jun20 2024", temp: B1P1_TEMP, depth: B1P1_DEPTH, xt: B1P1_XT, yt: B1P1_YT },
  { name: "B2P2", date: "Jun21 2024", temp: B2P2_TEMP, depth: B2P2_DEPTH, xt: B2P2_XT, yt: B2P2_YT },
  { name: "B2P3", date: "Jun20 2024", temp: B2P3_TEMP, depth: B2P3_DEPTH, xt: B2P3_XT, yt: B2P3_YT },
  { name: "B2P4", date: "Jun20 2024", temp: B2P4_TEMP, depth: B2P4_DEPTH, xt: B2P4_XT, yt: B2P4_YT },
  { name: "B3P0", date: "Jun22 2024", temp: B3P0_TEMP, depth: B3P0_DEPTH, xt: B3P0_XT, yt: B3P0_YT },
  { name: "B3P1", date: "Jun22 2024", temp: B3P1_TEMP, depth: B3P1_DEPTH, xt: B3P1_XT, yt: B3P1_YT },
  { name: "B3P2", date: "Jun22 2024", temp: B3P2_TEMP, depth: B3P2_DEPTH, xt: B3P2_XT, yt: B3P2_YT },
  { name: "B3P3", date: "Jun21 2024", temp: B3P3_TEMP, depth: B3P3_DEPTH, xt: B3P3_XT, yt: B3P3_YT },
  { name: "B3P4", date: "Jun23 2024", temp: B3P4_TEMP, depth: B3P4_DEPTH, xt: B3P4_XT, yt: B3P4_YT },
  { name: "EFL2", date: "Jun26 2024", temp: EFL2_TEMP, depth: EFL2_DEPTH, xt: EFL2_XT, yt: EFL2_YT },
  { name: "ERL122", date: "Jun19 2024", temp: ERL122_TEMP, depth: ERL122_DEPTH, xt: ERL122_XT, yt: ERL122_YT },
  { name: "ERL152", date: "Jun24 2024", temp: ERL152_TEMP, depth: ERL152_DEPTH, xt: ERL152_XT, yt: ERL152_YT },
  { name: "ERL153", date: "Jun23 2024", temp: ERL153_TEMP, depth: ERL153_DEPTH, xt: ERL153_XT, yt: ERL153_YT },
  { name: "ERL3", date: "Jun24 2024", temp: ERL3_TEMP, depth: ERL3_DEPTH, xt: ERL3_XT, yt: ERL3_YT },
  { name: "ERL33", date: "Jun23 2024", temp: ERL33_TEMP, depth: ERL33_DEPTH, xt: ERL33_XT, yt: ERL33_YT },
  { name: "ERL5", date: "July16 2024", temp: ERL5_TEMP, depth: ERL5_DEPTH, xt: ERL5_XT, yt: ERL5_YT },
  { name: "ERL6", date: "Jun19 2024", temp: ERL6_TEMP, depth: ERL6_DEPTH, xt: ERL6_XT, yt: ERL6_YT },
  { name: "ERL67", date: "July02 2024", temp: ERL67_TEMP, depth: ERL67_DEPTH, xt: ERL67_XT, yt: ERL67_YT },
  { name: "ERL7", date: "Jun28 2024", temp: ERL7_TEMP, depth: ERL7_DEPTH, xt: ERL7_XT, yt: ERL7_YT },
  { name: "ERL85", date: "Jun24 2024", temp: ERL85_TEMP, depth: ERL85_DEPTH, xt: ERL85_XT, yt: ERL85_YT },
  { name: "ERL87", date: "July19 2024", temp: ERL87_TEMP, depth: ERL87_DEPTH, xt: ERL87_XT, yt: ERL87_YT },
  { name: "EighthLake", date: "Jun30 2024", temp: EIGHTH_TEMP, depth: EIGHTH_DEPTH, xt: EIGHTH_XT, yt: EIGHTH_YT },
  { name: "FifthLake", date: "Jun29 2024", temp: FIFTH_TEMP, depth: FIFTH_DEPTH, xt: FIFTH_XT, yt: FIFTH_YT },
  { name: "FirstLake", date: "Jun27 2024", temp: FIRST_TEMP, depth: FIRST_DEPTH, xt: FIRST_XT, yt: FIRST_YT },
  { name: "FourthLake", date: "Jun28 2024", temp: FOURTH_TEMP, depth: FOURTH_DEPTH, xt: FOURTH_XT, yt: FOURTH_YT },
  { name: "L26", date: "Jun25 2024", temp: L26_TEMP, depth: L26_DEPTH, xt: L26_XT, yt: L26_YT },
  { name: "Lake10", date: "July1 2024", temp: LAKE10_TEMP, depth: LAKE10_DEPTH, xt: LAKE10_XT, yt: LAKE10_YT },
  { name: "Lake11", date: "July1 2024", temp: LAKE11_TEMP, depth: LAKE11_DEPTH, xt: LAKE11_XT, yt: LAKE11_YT },
  { name: "Lake12", date: "July2 2024", temp: LAKE12_TEMP, depth: LAKE12_DEPTH, xt: LAKE12_XT, yt: LAKE12_YT },
  { name: "Lake13", date: "July2 2024", temp: LAKE13_TEMP, depth: LAKE13_DEPTH, xt: LAKE13_XT, yt: LAKE13_YT },
  { name: "Lake14", date: "July2 2024", temp: LAKE14_TEMP, depth: LAKE14_DEPTH, xt: LAKE14_XT, yt: LAKE14_YT },
  { name: "Lake15", date: "July2 2024", temp: LAKE15_TEMP, depth: LAKE15_DEPTH, xt: LAKE15_XT, yt: LAKE15_YT },
  { name: "Lake16", date: "July3 2024", temp: LAKE16_TEMP, depth: LAKE16_DEPTH, xt: LAKE16_XT, yt: LAKE16_YT },
  { name: "Lake17", date: "July3 2024", temp: LAKE17_TEMP, depth: LAKE17_DEPTH, xt: LAKE17_XT, yt: LAKE17_YT },
  { name: "Lake18", date: "July5 2024", temp: LAKE18_TEMP, depth: LAKE18_DEPTH, xt: LAKE18_XT, yt: LAKE18_YT },
  { name: "Lake19", date: "July5 2024", temp: LAKE19_TEMP, depth: LAKE19_DEPTH, xt: LAKE19_XT, yt: LAKE19_YT },
  { name: "Lake20", date: "July5 2024", temp: LAKE20_TEMP, depth: LAKE20_DEPTH, xt: LAKE20_XT, yt: LAKE20_YT },
  { name: "Lake6", date: "Jun30 2024", temp: LAKE6_TEMP, depth: LAKE6_DEPTH, xt: LAKE6_XT, yt: LAKE6_YT },
  { name: "Lake7", date: "Jun30 2024", temp: LAKE7_TEMP, depth: LAKE7_DEPTH, xt: LAKE7_XT, yt: LAKE7_YT },
  { name: "Lake8", date: "Jun30 2024", temp: LAKE8_TEMP, depth: LAKE8_DEPTH, xt: LAKE8_XT, yt: LAKE8_YT },
  { name: "Lake9", date: "July1 2024", temp: LAKE9_TEMP, depth: LAKE9_DEPTH, xt: LAKE9_XT, yt: LAKE9_YT },
  { name: "SecondLake", date: "Jun27 2024", temp: SECOND_TEMP, depth: SECOND_DEPTH, xt: SECOND_XT, yt: SECOND_YT },
  { name: "SeventhLake", date: "Jun30 2024", temp: SEVENTH_TEMP, depth: SEVENTH_DEPTH, xt: SEVENTH_XT, yt: SEVENTH_YT },
  { name: "ThirdLake", date: "Jun27 2024", temp: THIRD_TEMP, depth: THIRD_DEPTH, xt: THIRD_XT, yt: THIRD_YT },
  { name: "sixthLake", date: "Jun30 2024", temp: SIXTH_TEMP, depth: SIXTH_DEPTH, xt: SIXTH_XT, yt: SIXTH_YT },
];

// ---------------- helpers ----------------
function limits(v: number[]) {
  const lo = Math.min(...v);
  const hi = Math.max(...v);
  const r = hi - lo || 1;
  return [lo - 0.05 * r, hi + 0.05 * r];
}

function buildTicks(labels: string[], lo: number, hi: number) {
  const vals = labels.map(Number);
  const out: any[] = vals.map((v, i) => ({ value: v, lab: labels[i] }));
  if (vals.length > 1) {
    const step = vals[1] - vals[0];
    for (let i = -1; i < vals.length; i++) {
      const m = i < 0 ? vals[0] - step / 2 : vals[i] + step / 2;
      out.push({ value: m, lab: "" });
    }
  }
  return out.filter((t) => t.value >= lo && t.value <= hi).sort((a, b) => a.value - b.value);
}

function axis(labels: string[], lo: number, hi: number, title: string, isY: boolean) {
  return {
    type: "linear",
    min: lo,
    max: hi,
    reverse: isY,
    afterBuildTicks: (s: any) => {
      s.ticks = buildTicks(labels, lo, hi);
    },
    afterFit: (s: any) => {
      s.paddingLeft = 0;
      s.paddingRight = 0;
      s.paddingTop = 0;
      s.paddingBottom = 0;
    },
    ticks: {
      autoSkip: false,
      maxRotation: 0,
      minRotation: 0,
      padding: 2,
      color: "#4D4D4D",
      font: { size: 9, family: FONT },
      callback: (_v: any, i: number, ticks: any[]) => (ticks[i] && ticks[i].lab) || "",
    },
    grid: {
      color: "#FFFFFF",
      lineWidth: (c: any) => (c.tick && c.tick.lab ? 1.1 : 0.55),
      drawTicks: true,
      tickLength: 3,
      tickWidth: 1,
      tickColor: (c: any) => (c.tick && c.tick.lab ? "#333333" : "rgba(0,0,0,0)"),
    },
    border: { display: false },
    title: {
      display: true,
      text: title,
      color: "#000000",
      font: { size: 10.5, family: FONT },
      padding: isY ? { top: 0, bottom: 1 } : { top: 2, bottom: 0 },
    },
  };
}

function Panel({ p, left, top, width, height }: any) {
  const ref = useRef<HTMLCanvasElement | null>(null);
  useEffect(() => {
    if (!ref.current) return;
    const n = Math.min(p.temp.length, p.depth.length);
    const pts = [];
    for (let i = 0; i < n; i++) pts.push({ x: p.temp[i], y: p.depth[i] });
    const [xlo, xhi] = limits(p.temp);
    const [ylo, yhi] = limits(p.depth);
    const title = `Thermocline ${p.name} , ${p.date}`;
    const chart = new Chart(ref.current, {
      type: "scatter",
      data: {
        datasets: [
          {
            data: pts,
            showLine: true,
            borderColor: "#000000",
            borderWidth: 0.9,
            pointRadius: 2,
            pointHoverRadius: 2,
            pointBackgroundColor: "#000000",
            pointBorderWidth: 0,
          },
        ],
      },
      options: {
        animation: false,
        responsive: false,
        devicePixelRatio: 1,
        events: [],
        layout: { padding: { top: 27, left: 5, right: 6, bottom: 3 } },
        plugins: { legend: { display: false }, tooltip: { enabled: false }, title: { display: false } },
        scales: {
          x: axis(p.xt, xlo, xhi, "Temp_C", false),
          y: axis(p.yt, ylo, yhi, "Depth_m", true),
        },
      } as any,
      plugins: [
        {
          id: "panelBg",
          beforeDraw(c: any) {
            const a = c.chartArea;
            const ctx = c.ctx;
            ctx.save();
            ctx.fillStyle = "#EBEBEB";
            ctx.fillRect(a.left, a.top, a.right - a.left, a.bottom - a.top);
            ctx.restore();
          },
          afterDraw(c: any) {
            const ctx = c.ctx;
            ctx.save();
            ctx.font = `13px ${FONT}`;
            ctx.fillStyle = "#000000";
            ctx.textBaseline = "middle";
            ctx.textAlign = "left";
            ctx.fillText(title, c.chartArea.left, 13.5);
            ctx.restore();
          },
        },
      ],
    });
    return () => chart.destroy();
  }, [p]);
  return (
    <canvas
      ref={ref}
      width={width}
      height={height}
      style={{ position: "absolute", left, top, width, height }}
    />
  );
}

export default function App() {
  const cell = 2000 / 7;
  return (
    <div style={{ position: "absolute", left: 0, top: 0, width: 2000, height: 2000, background: "#FFFFFF", overflow: "hidden" }}>
      {PANELS.map((p, i) => {
        const c = i % 7;
        const r = Math.floor(i / 7);
        const left = Math.round(c * cell);
        const top = Math.round(r * cell);
        const width = Math.round((c + 1) * cell) - left;
        const height = Math.round((r + 1) * cell) - top;
        return <Panel key={p.name} p={p} left={left} top={top} width={width} height={height} />;
      })}
    </div>
  );
}
